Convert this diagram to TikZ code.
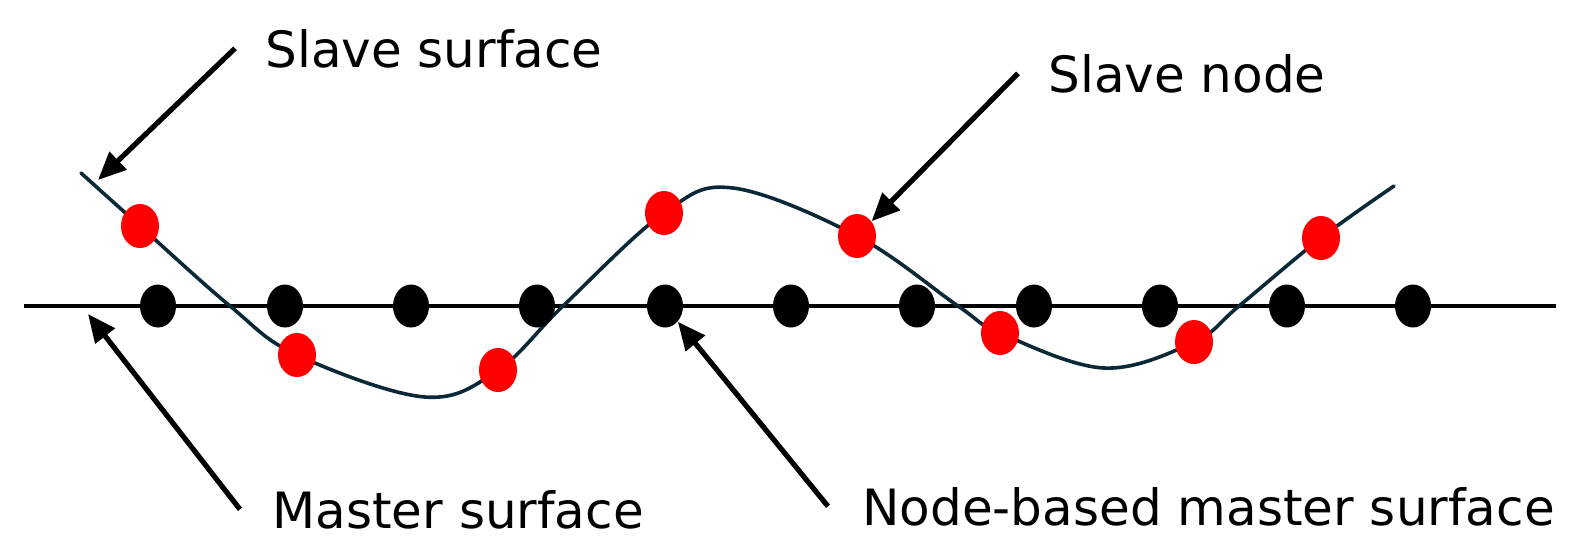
\documentclass[tikz,border=0pt]{standalone}
\usepackage{fontspec}
\setmainfont{DejaVu Sans}
\usepackage{xcolor}
\usepackage{tikz}
\usetikzlibrary{positioning, shapes.geometric, arrows.meta}
\definecolor{curveblue}{RGB}{10,40,55}

\begin{document}
\begin{tikzpicture}
    [
      x=0.5pt, y=-0.5pt,
      Label/.style={inner sep=0pt, anchor=base west, font=\fontsize{25}{30}\selectfont},
      Master/.style={ellipse, fill=black, inner sep=0pt, minimum width=18pt, minimum height=21.5pt},
      Slave/.style={ellipse, fill=red, inner sep=0pt, minimum width=19pt, minimum height=22pt},
      Pointer/.style={-{Triangle[length=14pt, width=12pt]}, line width=2.6pt},
    ]
    \useasboundingbox (0, 0) rectangle (1585, 538);

    % Surfaces
    \draw[line width=2.1pt] (24, 306) -- (1556, 306);
    \draw[curveblue, line width=1.8pt, line cap=round] plot[smooth, tension=0.6] coordinates {
      (81, 173) (140, 226) (230, 306) (297, 355) (425, 397) (498, 370) (563, 306)
      (664, 213) (733, 188) (857, 236) (958, 306) (1000, 333) (1104, 368)
      (1194, 342) (1239, 306) (1321, 238) (1394, 186)};

    % Nodes
    \node[Master] (m1) at (158, 306) {};
    \node[Master] (m2) at (285, 306) {};
    \node[Master] (m3) at (411, 306) {};
    \node[Master] (m4) at (537, 306) {};
    \node[Master] (m5) at (665, 306) {};
    \node[Master] (m6) at (791, 306) {};
    \node[Master] (m7) at (917, 306) {};
    \node[Master] (m8) at (1034, 306) {};
    \node[Master] (m9) at (1160, 306) {};
    \node[Master] (m10) at (1287, 306) {};
    \node[Master] (m11) at (1413, 306) {};

    \node[Slave] (s1) at (140, 226) {};
    \node[Slave] (s2) at (297, 355) {};
    \node[Slave] (s3) at (498, 370) {};
    \node[Slave] (s4) at (664, 213) {};
    \node[Slave] (s5) at (857, 236) {};
    \node[Slave] (s6) at (1000, 333) {};
    \node[Slave] (s7) at (1194, 342) {};
    \node[Slave] (s8) at (1321, 238) {};

    \node[Label] (ss) at (265, 67) {Slave surface};
    \node[Label] (sn) at (1048, 92) {Slave node};
    \node[Label] (ms) at (272, 528) {Master surface};
    \node[Label] (nb) at (862, 525) {Node-based master surface};

    \coordinate (ssTip) at (98, 180);
    \coordinate (msTip) at (88, 314);

    % Lines
    \path[Pointer, draw] ([xshift=-15pt]ss.west) -- (ssTip);
    \path[Pointer, draw] ([xshift=-15pt]sn.west) -- (s5);
    \path[Pointer, draw] ([xshift=-16pt]ms.west) -- (msTip);
    \path[Pointer, draw] ([xshift=-17pt]nb.west) -- (m5);

\end{tikzpicture}
\end{document}
